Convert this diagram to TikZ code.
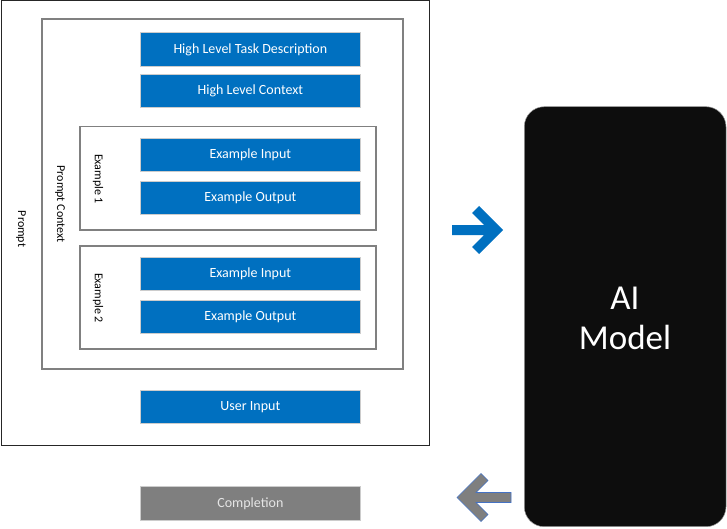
\documentclass[tikz,border=0pt]{standalone}
\usepackage{fontspec}
\setmainfont{Carlito}
\begin{document}
\begin{tikzpicture}[x=1pt,y=-1pt,
  bluebox/.style={draw=black!20,line width=0.8pt,fill=blueC},
  boxtext/.style={text=white,font=\fontsize{14}{16}\selectfont},
  groupbox/.style={draw=black!50,line width=1.6pt},
  sidelabel/.style={rotate=-90,font=\fontsize{12}{14}\selectfont,text=black}]
\definecolor{blueC}{HTML}{0070C0}
\definecolor{grayC}{HTML}{7F7F7F}
\definecolor{darkC}{HTML}{0D0D0D}
\definecolor{edgeC}{HTML}{4472C4}
\useasboundingbox (0,0) rectangle (727,529);
% outer prompt box
\draw[black!85,line width=1pt] (1,1) rectangle (429.5,445);
\node[sidelabel] (lprompt) at (21,229) {Prompt};
% prompt context
\draw[groupbox] (41.7,19.3) rectangle (403,369);
\node[sidelabel] (lctx) at (60,204) {Prompt Context};
% example boxes
\draw[groupbox] (79.7,126.7) rectangle (376,230);
\node[sidelabel] (lex1) at (98,179) {Example 1};
\draw[groupbox] (79.7,245.7) rectangle (376,349);
\node[sidelabel] (lex2) at (98,298) {Example 2};
% blue boxes
\foreach \n/\ya/\yb/\t in {htd/32.7/66/High Level Task Description,
                        hlc/74.7/107.7/High Level Context,
                        ei1/138.7/171.7/Example Input,
                        eo1/181.7/214.7/Example Output,
                        ei2/257.7/290.7/Example Input,
                        eo2/300.7/333.7/Example Output,
                        ui/390.7/423.7/User Input}{
  \path[bluebox] (140.7,\ya) rectangle (360,\yb);
  \node[boxtext] (\n) at (250.35,{(\ya+\yb)/2}) {\t};
}
% completion
\path[draw=black!20,line width=0.8pt,fill=grayC] (140.7,486.7) rectangle (360,520.7);
\node[boxtext,text=white!90!black] (comp) at (250.35,503.7) {Completion};
% AI model
\path[fill=darkC,draw=black!40,line width=0.5pt,rounded corners=20pt] (524.3,106.7) rectangle (726,526.7);
\node[text=white,align=center,font=\fontsize{35}{40}\selectfont] (ai) at (625,318) {AI\\Model};
% blue arrow (right)
\fill[blueC] (503,230) -- (479,206) -- (472,213) -- (484,225) -- (452,225) -- (452,235) -- (484,235) -- (472,247) -- (479,254) -- cycle;
% gray arrow (left)
\filldraw[fill=grayC,draw=edgeC,line width=0.6pt] (457,497.5) -- (481,473.5) -- (488,480.5) -- (476,492.5) -- (511,492.5) -- (511,502.5) -- (476,502.5) -- (488,514.5) -- (481,521.5) -- cycle;
\end{tikzpicture}
\end{document}
